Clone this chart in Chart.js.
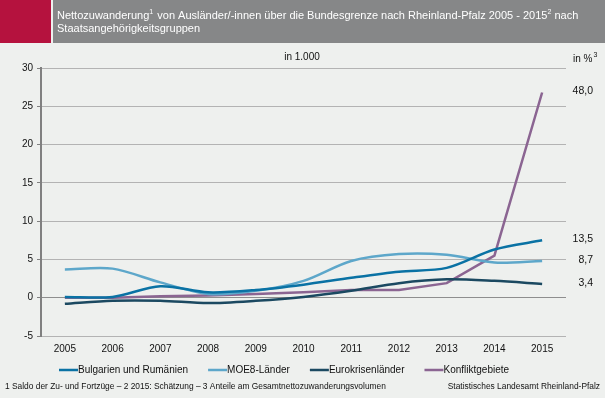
<!DOCTYPE html>
<html>
<head>
<meta charset="utf-8">
<script src="https://cdn.jsdelivr.net/npm/chart.js@4/dist/chart.umd.min.js"></script>
<style>
  html, body { margin: 0; padding: 0; background: #eef0ee; }
  #wrap { width: 605px; height: 398px; position: relative; }
</style>
</head>
<body>
<div id="wrap"><canvas id="chart" width="605" height="398"></canvas></div>
<script>
const years = ['2005', '2006', '2007', '2008', '2009', '2010', '2011', '2012', '2013', '2014', '2015'];
const bulgRum = [0.1, 0.1, 1.5, 0.7, 1.0, 1.7, 2.6, 3.4, 3.9, 6.3, 7.5];
const moe8 = [3.7, 3.8, 2.0, 0.5, 0.9, 2.2, 4.8, 5.7, 5.6, 4.6, 4.8];
const euroKrise = [-0.8, -0.4, -0.4, -0.7, -0.4, 0.1, 0.9, 1.9, 2.4, 2.2, 1.8];
const konflikt = [0.0, 0.0, 0.2, 0.3, 0.5, 0.7, 1.0, 1.0, 1.9, 5.5, 26.8];
const shares2015 = ['13,5', '8,7', '3,4', '48,0'];
const seriesNames = ['Bulgarien und Rumänien', 'MOE8-Länder', 'Eurokrisenländer', 'Konfliktgebiete'];
const colors = ['#0a72a4', '#5da7ca', '#1b4961', '#8b6592'];

const FONT = 'Liberation Sans, Arial, sans-serif';

// background, title bar, notes, legend, share labels
const decor = {
  id: 'decor',
  beforeDraw(chart) {
    const ctx = chart.ctx;
    ctx.save();
    ctx.fillStyle = '#eef0ee';
    ctx.fillRect(0, 0, chart.width, chart.height);
    ctx.fillStyle = '#b5123e';
    ctx.fillRect(0, 0, 51, 43);
    ctx.fillStyle = '#868788';
    ctx.fillRect(53, 0, 552, 43);
    ctx.fillStyle = '#ffffff';
    ctx.font = '11px ' + FONT;
    ctx.textBaseline = 'middle';
    const t1 = 'Nettozuwanderung';
    ctx.fillText(t1, 57, 16);
    let x = 57 + ctx.measureText(t1).width;
    ctx.font = '7px ' + FONT;
    ctx.fillText('1', x, 12);
    x += ctx.measureText('1').width + 1;
    ctx.font = '11px ' + FONT;
    const t2 = ' von Ausländer/-innen über die Bundesgrenze nach Rheinland-Pfalz 2005 - 2015';
    ctx.fillText(t2, x, 16);
    x += ctx.measureText(t2).width;
    ctx.font = '7px ' + FONT;
    ctx.fillText('2', x, 12);
    x += ctx.measureText('2').width;
    ctx.font = '11px ' + FONT;
    ctx.fillText(' nach', x, 16);
    ctx.fillText('Staatsangehörigkeitsgruppen', 57, 29);
    ctx.restore();
  },
  afterDraw(chart) {
    const ctx = chart.ctx;
    const yScale = chart.scales.y;
    ctx.save();
    ctx.fillStyle = '#111';
    ctx.textBaseline = 'middle';
    ctx.font = '10px ' + FONT;
    ctx.textAlign = 'center';
    ctx.fillText('in 1.000', 302, 57);
    ctx.textAlign = 'left';
    ctx.fillText('in %', 573, 59);
    const pw = ctx.measureText('in %').width;
    ctx.font = '7px ' + FONT;
    ctx.fillText('3', 573 + pw + 1, 55);

    // share labels at the 2015 end of each series
    ctx.font = '10.5px ' + FONT;
    ctx.textAlign = 'right';
    chart.data.datasets.forEach((ds, i) => {
      const y = yScale.getPixelForValue(ds.data[ds.data.length - 1]);
      ctx.fillText(shares2015[i], 593, y - 1);
    });

    // legend
    ctx.font = '10px ' + FONT;
    ctx.textAlign = 'left';
    let lx = 59;
    chart.data.datasets.forEach((ds) => {
      ctx.strokeStyle = ds.borderColor;
      ctx.lineWidth = 2.5;
      ctx.beginPath();
      ctx.moveTo(lx, 370);
      ctx.lineTo(lx + 19, 370);
      ctx.stroke();
      ctx.fillStyle = '#111';
      ctx.fillText(ds.label, lx + 19, 370);
      lx += 19 + ctx.measureText(ds.label).width + 20;
    });

    // footnotes
    ctx.font = '8.4px ' + FONT;
    ctx.fillText('1 Saldo der Zu- und Fortzüge \u2013 2 2015: Schätzung \u2013 3 Anteile am Gesamtnettozuwanderungsvolumen', 5, 387);
    ctx.textAlign = 'right';
    ctx.fillText('Statistisches Landesamt Rheinland-Pfalz', 600, 387);
    ctx.restore();
  }
};

const datasets = [bulgRum, moe8, euroKrise, konflikt].map((d, i) => ({
  label: seriesNames[i],
  data: d,
  borderColor: colors[i],
  backgroundColor: colors[i],
  borderWidth: 2.5,
  pointRadius: 0,
  tension: i === 3 ? 0 : 0.3,
  fill: false
}));

new Chart(document.getElementById('chart'), {
  type: 'line',
  data: { labels: years, datasets: datasets },
  options: {
    responsive: false,
    animation: false,
    devicePixelRatio: 1,
    layout: { padding: { top: 68, left: 0, right: 39, bottom: 42 } },
    plugins: {
      legend: { display: false },
      title: { display: false },
      tooltip: { enabled: false }
    },
    scales: {
      x: {
        offset: true,
        grid: { display: false, drawTicks: false },
        border: { display: false },
        ticks: { color: '#111', font: { family: FONT, size: 10 }, padding: 7, maxRotation: 0 },
        afterFit: s => { s.height = 20; }
      },
      y: {
        min: -5,
        max: 30,
        ticks: { stepSize: 5, color: '#111', font: { family: FONT, size: 10 }, padding: 4 },
        grid: {
          color: ctx => ctx.tick && ctx.tick.value === 0 ? '#8e8e8e' : '#b3b3b3',
          lineWidth: 1,
          tickLength: 4,
          tickColor: '#808080'
        },
        border: { color: '#808080', width: 2 },
        afterFit: s => { s.width = 41; }
      }
    }
  },
  plugins: [decor]
});
</script>
</body>
</html>
